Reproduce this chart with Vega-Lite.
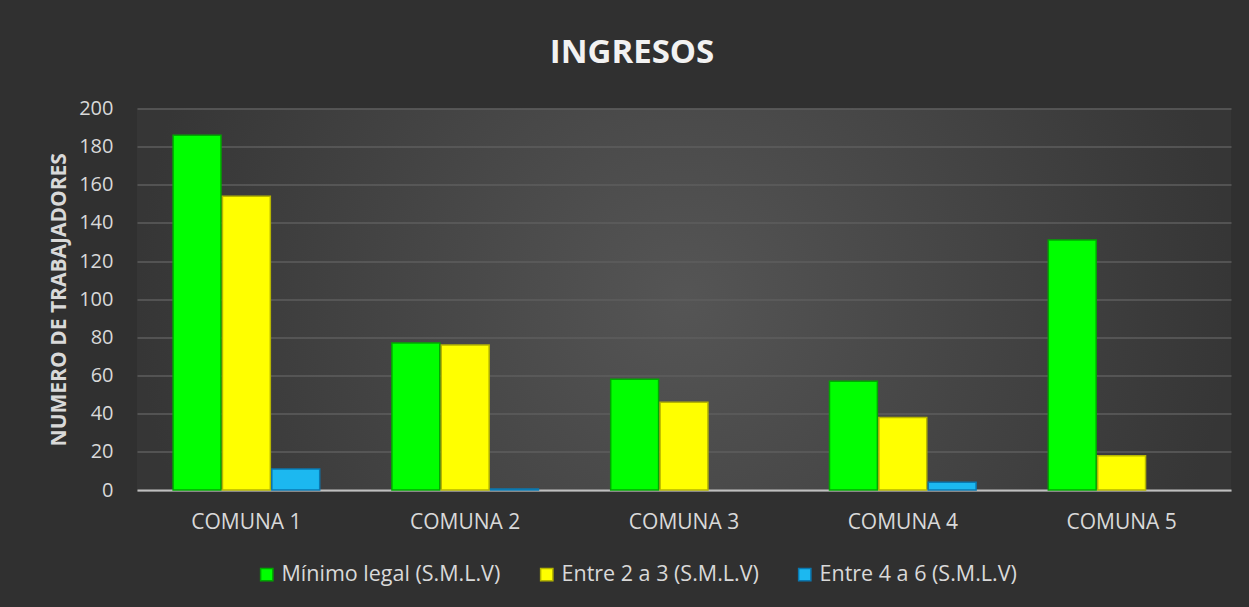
{
  "$schema": "https://vega.github.io/schema/vega-lite/v6.json",
  "autosize": {"type": "none"},
  "width": 1094,
  "height": 381.5,
  "padding": {"left": 137, "top": 108.5, "right": 18, "bottom": 117},
  "background": "#303030",
  "title": {
    "text": "INGRESOS",
    "font": "Open Sans",
    "fontSize": 33,
    "fontWeight": "bold",
    "color": "#f2f2f2",
    "anchor": "middle",
    "dx": -52,
    "baseline": "alphabetic",
    "offset": 3
  },
  "data": {
    "values": [
      {"comuna": "COMUNA 1", "serie": "Mínimo legal (S.M.L.V)", "valor": 186},
      {"comuna": "COMUNA 1", "serie": "Entre 2 a 3 (S.M.L.V)", "valor": 154},
      {"comuna": "COMUNA 1", "serie": "Entre 4 a 6 (S.M.L.V)", "valor": 11},
      {"comuna": "COMUNA 2", "serie": "Mínimo legal (S.M.L.V)", "valor": 77},
      {"comuna": "COMUNA 2", "serie": "Entre 2 a 3 (S.M.L.V)", "valor": 76},
      {"comuna": "COMUNA 2", "serie": "Entre 4 a 6 (S.M.L.V)", "valor": 0.5},
      {"comuna": "COMUNA 3", "serie": "Mínimo legal (S.M.L.V)", "valor": 58},
      {"comuna": "COMUNA 3", "serie": "Entre 2 a 3 (S.M.L.V)", "valor": 46},
      {"comuna": "COMUNA 4", "serie": "Mínimo legal (S.M.L.V)", "valor": 57},
      {"comuna": "COMUNA 4", "serie": "Entre 2 a 3 (S.M.L.V)", "valor": 38},
      {"comuna": "COMUNA 4", "serie": "Entre 4 a 6 (S.M.L.V)", "valor": 4},
      {"comuna": "COMUNA 5", "serie": "Mínimo legal (S.M.L.V)", "valor": 131},
      {"comuna": "COMUNA 5", "serie": "Entre 2 a 3 (S.M.L.V)", "valor": 18}
    ]
  },
  "mark": {"type": "bar", "strokeWidth": 1.5},
  "encoding": {
    "x": {
      "field": "comuna",
      "type": "nominal",
      "scale": {"paddingInner": 0.33, "paddingOuter": 0.165},
      "axis": {"title": null}
    },
    "xOffset": {
      "field": "serie",
      "type": "nominal",
      "sort": ["Mínimo legal (S.M.L.V)", "Entre 2 a 3 (S.M.L.V)", "Entre 4 a 6 (S.M.L.V)"],
      "scale": {"paddingInner": 0.03}
    },
    "y": {
      "field": "valor",
      "type": "quantitative",
      "scale": {"domain": [0, 200]},
      "axis": {"title": "NUMERO DE TRABAJADORES", "values": [0, 20, 40, 60, 80, 100, 120, 140, 160, 180, 200]}
    },
    "color": {
      "field": "serie",
      "type": "nominal",
      "scale": {
        "domain": ["Mínimo legal (S.M.L.V)", "Entre 2 a 3 (S.M.L.V)", "Entre 4 a 6 (S.M.L.V)"],
        "range": ["#00ff00", "#ffff00", "#1cb8f0"]
      },
      "legend": {"title": null}
    },
    "stroke": {
      "field": "serie",
      "type": "nominal",
      "scale": {
        "domain": ["Mínimo legal (S.M.L.V)", "Entre 2 a 3 (S.M.L.V)", "Entre 4 a 6 (S.M.L.V)"],
        "range": ["#00a800", "#b5b500", "#0a78b0"]
      },
      "legend": {"title": null}
    }
  },
  "config": {
    "view": {
      "stroke": null,
      "fill": {
        "gradient": "radial",
        "stops": [
          {"offset": 0, "color": "#555555"},
          {"offset": 1, "color": "#363636"}
        ]
      }
    },
    "font": "Open Sans",
    "axis": {
      "labelFont": "Open Sans",
      "labelColor": "#d9d9d9",
      "titleFont": "Open Sans",
      "titleColor": "#d9d9d9",
      "ticks": false
    },
    "axisY": {
      "grid": true,
      "gridColor": "#5e5e5e",
      "gridWidth": 1.5,
      "domain": false,
      "labelFontSize": 20,
      "labelPadding": 24,
      "titleFontSize": 21,
      "titleFontWeight": "bold",
      "titlePadding": 9
    },
    "axisX": {
      "grid": false,
      "domain": true,
      "domainColor": "#bfbfbf",
      "domainWidth": 2,
      "labelAngle": 0,
      "labelFontSize": 21,
      "labelPadding": 21
    },
    "legend": {
      "orient": "none",
      "direction": "horizontal",
      "legendX": 119,
      "legendY": 455,
      "labelFont": "Open Sans",
      "labelFontSize": 21.5,
      "labelColor": "#d9d9d9",
      "symbolType": "square",
      "symbolSize": 150,
      "symbolStrokeWidth": 1.5,
      "symbolOpacity": 1,
      "columnPadding": 35,
      "labelOffset": 4,
      "labelLimit": 400
    }
  }
}
